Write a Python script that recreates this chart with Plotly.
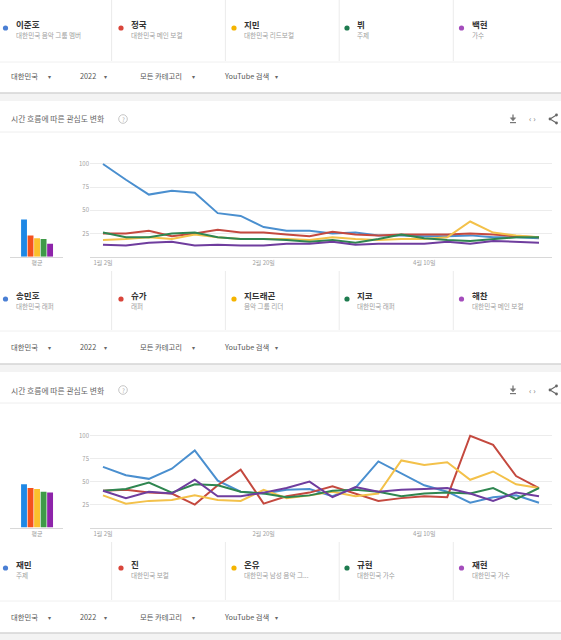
import plotly.graph_objects as go

W, H = 561, 640
def px(x): return x / W
def py(y): return 1 - y / H

FONT = "Noto Sans CJK KR, Noto Sans, sans-serif"

# ---------------- data ----------------
weeks = ["2022-01-02", "2022-01-09", "2022-01-16", "2022-01-23", "2022-01-30",
         "2022-02-06", "2022-02-13", "2022-02-20", "2022-02-27", "2022-03-06",
         "2022-03-13", "2022-03-20", "2022-03-27", "2022-04-03", "2022-04-10",
         "2022-04-17", "2022-04-24", "2022-05-01", "2022-05-08", "2022-05-15"]
tick_dates = ["2022-01-02", "2022-02-20", "2022-04-10"]
tick_text = ["1월 2일", "2월 20일", "4월 10일"]
y_ticks = [25, 50, 75, 100]

# panel 1 (chart 1)
p1_names = ["이준호", "정국", "지민", "뷔", "백현"]
p1_subs = ["대한민국 음악 그룹 멤버", "대한민국 메인 보컬", "대한민국 리드보컬", "주제", "가수"]
c1_leejunho = [100, 83, 67, 71, 69, 47, 44, 32, 28, 28, 25, 26, 23, 23, 22, 22, 23, 21, 21, 20]
c1_jungkook = [25, 25, 28, 22, 25, 29, 26, 26, 24, 22, 27, 24, 23, 24, 24, 24, 25, 24, 22, 21]
c1_jimin = [18, 19, 21, 19, 24, 21, 19, 19, 19, 18, 21, 19, 18, 19, 19, 21, 38, 26, 23, 21]
c1_v = [26, 21, 21, 25, 26, 21, 19, 19, 18, 16, 18, 15, 19, 24, 20, 18, 17, 19, 21, 21]
c1_baekhyun = [13, 12, 15, 16, 12, 13, 12, 12, 14, 14, 16, 13, 14, 14, 14, 16, 14, 17, 16, 15]
p1_avg = [40, 23, 20, 19, 14]

# panel 2 (chart 2)
p2_names = ["송민호", "슈가", "지드래곤", "지코", "해찬"]
p2_subs = ["대한민국 래퍼", "래퍼", "음악 그룹 리더", "대한민국 래퍼", "대한민국 메인 보컬"]
c2_songmino = [66, 57, 53, 64, 84, 51, 39, 37, 41, 42, 34, 43, 72, 59, 46, 39, 27, 33, 35, 27]
c2_suga = [40, 41, 38, 37, 25, 46, 63, 26, 34, 38, 45, 37, 29, 32, 34, 33, 100, 90, 56, 43]
c2_gdragon = [35, 26, 29, 30, 35, 30, 29, 41, 32, 35, 39, 34, 37, 73, 68, 71, 52, 61, 47, 43]
c2_zico = [40, 42, 49, 38, 47, 46, 39, 37, 33, 35, 40, 41, 39, 34, 37, 38, 37, 43, 31, 43]
c2_haechan = [40, 32, 39, 37, 52, 34, 34, 38, 43, 50, 33, 44, 39, 41, 42, 43, 37, 29, 38, 34]
p2_avg = [47, 43, 42, 39, 38]

# panel 3 (cards only)
p3_names = ["재민", "진", "온유", "규현", "재현"]
p3_subs = ["주제", "대한민국 보컬", "대한민국 남성 음악 그...", "대한민국 가수", "대한민국 가수"]

filters = ["대한민국", "2022", "모든 카테고리", "YouTube 검색"]
chart_title = "시간 흐름에 따른 관심도 변화"

# ---------------- styles ----------------
LINE = ["#4a8fcf", "#c4493f", "#f3c14a", "#2f8650", "#6f3d9e"]
BAR = ["#1e88e5", "#f4511e", "#fbc02d", "#3f9a48", "#8e24aa"]
DOT = ["#4a7fd4", "#d9453a", "#f5b400", "#1e7b4f", "#a44cbc"]

fig = go.Figure()

c1_series = [c1_leejunho, c1_jungkook, c1_jimin, c1_v, c1_baekhyun]
c2_series = [c2_songmino, c2_suga, c2_gdragon, c2_zico, c2_haechan]

for k, s in enumerate(c1_series):
    fig.add_trace(go.Scatter(x=weeks, y=s, mode="lines", name=p1_names[k],
                             line=dict(color=LINE[k], width=2), xaxis="x", yaxis="y"))
fig.add_trace(go.Bar(x=p1_names, y=p1_avg, marker=dict(color=BAR, line=dict(width=0)),
                     width=0.9, xaxis="x2", yaxis="y2"))
for k, s in enumerate(c2_series):
    fig.add_trace(go.Scatter(x=weeks, y=s, mode="lines", name=p2_names[k],
                             line=dict(color=LINE[k], width=2), xaxis="x3", yaxis="y3"))
fig.add_trace(go.Bar(x=p2_names, y=p2_avg, marker=dict(color=BAR, line=dict(width=0)),
                     width=0.9, xaxis="x4", yaxis="y4"))

xr = ["2021-12-29 01:00", "2022-05-18 23:00"]
tickfont = dict(size=6, color="#a0a0a0", family=FONT)

def line_x(anchor):
    return dict(domain=[px(90), px(552)], range=xr, type="date", tickvals=tick_dates,
                ticktext=tick_text, showgrid=False, showline=True, linecolor="#d8d8d8",
                linewidth=1.2, ticks="", tickfont=tickfont, anchor=anchor, zeroline=False,
                fixedrange=True)

def line_y(anchor, y0, ytop):
    return dict(domain=[py(y0), py(ytop)], range=[0, 106], tickvals=y_ticks,
                gridcolor="#ececec", gridwidth=1, showline=False, zeroline=False,
                tickfont=tickfont, anchor=anchor, ticks="", fixedrange=True)

def bar_x(anchor, names):
    return dict(domain=[px(10), px(63)], range=[-2.15, 5.98], type="category",
                tickvals=[names[2]], ticktext=["평균"], showline=True, linecolor="#d8d8d8",
                linewidth=1.2, ticks="", showgrid=False, tickfont=tickfont, anchor=anchor,
                fixedrange=True)

def bar_y(anchor, y0, ytop):
    return dict(domain=[py(y0), py(ytop)], range=[0, 106], visible=False, anchor=anchor,
                fixedrange=True)

c1_y0, c1_top = 256.7, 256.7 - 106 * 0.927
c2_y0, c2_top = 527.5, 527.5 - 106 * 0.918

shapes = []
annotations = []

def hline(y, x0=0, x1=W, color="#eeeeee", width=1):
    shapes.append(dict(type="line", xref="paper", yref="paper", x0=px(x0), x1=px(x1),
                       y0=py(y), y1=py(y), line=dict(color=color, width=width)))

def vline(x, y0, y1, color="#ebebeb", width=1):
    shapes.append(dict(type="line", xref="paper", yref="paper", x0=px(x), x1=px(x),
                       y0=py(y0), y1=py(y1), line=dict(color=color, width=width)))

def rect(x0, y0, x1, y1, color):
    shapes.append(dict(type="rect", xref="paper", yref="paper", x0=px(x0), x1=px(x1),
                       y0=py(y1), y1=py(y0), fillcolor=color, line=dict(width=0), layer="below"))

def circle(cx, cy, r, fill, line_color=None, lw=0):
    shapes.append(dict(type="circle", xref="paper", yref="paper", x0=px(cx - r), x1=px(cx + r),
                       y0=py(cy + r), y1=py(cy - r), fillcolor=fill,
                       line=dict(color=line_color or fill, width=lw)))

def text(x, y, t, size, color, bold=False, anchor="left"):
    annotations.append(dict(xref="paper", yref="paper", x=px(x), y=py(y), text=("<b>%s</b>" % t) if bold else t,
                            showarrow=False, xanchor=anchor, yanchor="middle",
                            font=dict(size=size, color=color, family=FONT)))

def path(d_points, color, width=1, fill=None, closed=False):
    d = "M " + " L ".join("%f %f" % (px(a), py(b)) for a, b in d_points)
    if closed:
        d += " Z"
    shapes.append(dict(type="path", xref="paper", yref="paper", path=d,
                       line=dict(color=color, width=width), fillcolor=fill))

col_sep = [111.6, 225.4, 339.2, 453.3]
dot_x = [5.5, 121, 234, 347, 461.5]
filter_x = [9, 78, 138, 222]
arrow_x = [49, 106, 193, 276]

def cards(names, subs, y_top, y_bot, name_y, filt_y, band_y):
    for xs in col_sep:
        vline(xs, y_top, y_bot)
    hline(y_bot + 1, color="#f0f0f0")
    for k in range(5):
        circle(dot_x[k], name_y + 4, 2.6, DOT[k])
        text(dot_x[k] + 8, name_y, names[k], 8.5, "#333333", bold=True)
        text(dot_x[k] + 8, name_y + 11, subs[k], 6.6, "#a0a0a0")
    for k, f in enumerate(filters):
        text(filter_x[k], filt_y, f, 7.3, "#555555")
        text(arrow_x[k], filt_y, "▾", 6, "#666666", anchor="center")
    rect(0, band_y, W, band_y + 8, "#f3f3f3")
    hline(band_y, color="#d4d4d4", width=1.5)

def chart_header(y, line_y):
    text(9, y, chart_title, 7.8, "#666666")
    circle(123, y, 4.3, "rgba(0,0,0,0)", "#b8b8b8", 0.8)
    text(123, y + 0.3, "?", 6, "#aaaaaa", anchor="center")
    hline(line_y, color="#eeeeee")
    # download icon
    path([(513, y - 4.5), (513, y + 0.5)], "#777777", 1.3)
    path([(510.3, y - 1.2), (515.7, y - 1.2), (513, y + 2)], "#777777", 0.5, fill="#777777", closed=True)
    path([(510, y + 3.6), (516, y + 3.6)], "#777777", 1.2)
    # embed icon
    text(532.5, y, "‹ ›", 8, "#777777", anchor="center")
    # share icon
    path([(556.5, y - 4), (550, y), (556.5, y + 4)], "#666666", 1.1)
    circle(556.5, y - 4, 1.4, "#666666")
    circle(550, y, 1.4, "#666666")
    circle(556.5, y + 4, 1.4, "#666666")

cards(p1_names, p1_subs, 0, 61, 24, 76, 93)
chart_header(119, 132)
cards(p2_names, p2_subs, 271, 330, 295, 347, 364)
chart_header(390, 403)
cards(p3_names, p3_subs, 542, 600, 564, 617, 633)

fig.update_layout(
    width=W, height=H, margin=dict(l=0, r=0, t=0, b=0),
    paper_bgcolor="white", plot_bgcolor="white", showlegend=False,
    font=dict(family=FONT),
    xaxis=line_x("y"), yaxis=line_y("x", c1_y0, c1_top),
    xaxis2=bar_x("y2", p1_names), yaxis2=bar_y("x2", c1_y0, c1_top),
    xaxis3=line_x("y3"), yaxis3=line_y("x3", c2_y0, c2_top),
    xaxis4=bar_x("y4", p2_names), yaxis4=bar_y("x4", c2_y0, c2_top),
    shapes=shapes, annotations=annotations,
)

fig.write_html("out.html")
